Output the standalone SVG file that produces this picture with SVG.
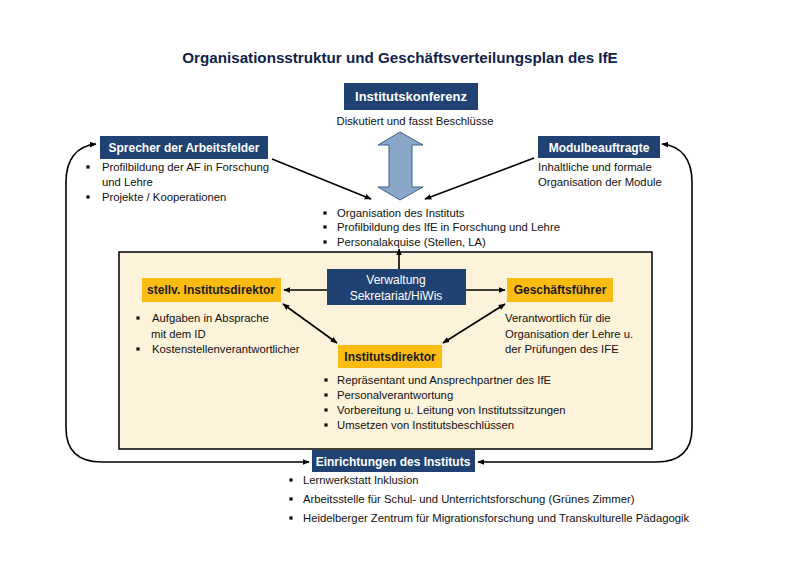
<svg xmlns="http://www.w3.org/2000/svg" width="800" height="566" viewBox="0 0 800 566">
<defs>
<marker id="ah" viewBox="0 0 10 10" refX="9" refY="5" markerWidth="7" markerHeight="7" markerUnits="userSpaceOnUse" orient="auto-start-reverse">
<path d="M0,1 L10,5 L0,9 Z" fill="#000"/>
</marker>
<rect id="b" x="-1.6" y="-1.6" width="3.2" height="3.2" fill="#111"/>
<style>
text{font-family:"Liberation Sans",Arial,sans-serif;}
.t{font-size:11.3px;fill:#111;}
.wb{font-size:12px;font-weight:bold;fill:#fff;}
.w{font-size:12px;fill:#fff;}
.gb{font-size:12px;font-weight:bold;fill:#1a1a1a;}
.blue{fill:#1f4272;}
.gold{fill:#fbbc12;}
.con{stroke:#000;stroke-width:1.6;fill:none;}
</style>
</defs>
<rect width="800" height="566" fill="#fff"/>
<text x="400" y="63" text-anchor="middle" font-size="15.2" font-weight="bold" fill="#10224a">Organisationsstruktur und Geschäftsverteilungsplan des IfE</text>

<g id="beige">
<rect x="119" y="252" width="533" height="197" fill="#fdf2da" stroke="#000" stroke-width="1.5"/>
</g>

<g id="institutskonferenz">
<rect class="blue" x="344" y="83" width="134" height="27"/>
<text x="411" y="101" text-anchor="middle" font-size="13" font-weight="bold" fill="#fff">Institutskonferenz</text>
<text class="t" x="415" y="125" text-anchor="middle">Diskutiert und fasst Beschlüsse</text>
</g>

<g id="sprecher">
<rect class="blue" x="100" y="136" width="168" height="23"/>
<text class="wb" x="184" y="152" text-anchor="middle">Sprecher der Arbeitsfelder</text>
<use href="#b" x="88" y="167"/><text class="t" x="102" y="171">Profilbildung der AF in Forschung</text>
<text class="t" x="102" y="186">und Lehre</text>
<use href="#b" x="88" y="197"/><text class="t" x="102" y="201">Projekte / Kooperationen</text>
</g>

<g id="modul">
<rect class="blue" x="538" y="136" width="122" height="22"/>
<text class="wb" x="599" y="152" text-anchor="middle">Modulbeauftragte</text>
<text class="t" x="538" y="171">Inhaltliche und formale</text>
<text class="t" x="538" y="186">Organisation der Module</text>
</g>

<g id="mitte">
<use href="#b" x="325" y="213"/><text class="t" x="337" y="217">Organisation des Instituts</text>
<use href="#b" x="325" y="227"/><text class="t" x="337" y="231">Profilbildung des IfE in Forschung und Lehre</text>
<use href="#b" x="325" y="242"/><text class="t" x="337" y="246">Personalakquise (Stellen, LA)</text>
</g>

<g id="verwaltung">
<rect class="blue" x="327" y="269" width="139" height="36"/>
<text class="w" x="396" y="284" text-anchor="middle">Verwaltung</text>
<text class="w" x="396" y="300" text-anchor="middle">Sekretariat/HiWis</text>
</g>

<g id="stellv">
<rect class="gold" x="142" y="278" width="139" height="24"/>
<text class="gb" x="211" y="294" text-anchor="middle">stellv. Institutsdirektor</text>
<use href="#b" x="138" y="318"/><text class="t" x="152" y="322">Aufgaben in Absprache</text>
<text class="t" x="151" y="338">mit dem ID</text>
<use href="#b" x="138" y="349"/><text class="t" x="152" y="353">Kostenstellenverantwortlicher</text>
</g>

<g id="geschaeftsfuehrer">
<rect class="gold" x="507" y="278" width="106" height="24"/>
<text class="gb" x="560" y="294" text-anchor="middle">Geschäftsführer</text>
<text class="t" x="505" y="322">Verantwortlich für die</text>
<text class="t" x="505" y="338">Organisation der Lehre u.</text>
<text class="t" x="505" y="353">der Prüfungen des IFE</text>
</g>

<g id="institutsdirektor">
<rect class="gold" x="338" y="345" width="104" height="23"/>
<text class="gb" x="390" y="361" text-anchor="middle">Institutsdirektor</text>
<use href="#b" x="326" y="380"/><text class="t" x="337" y="384">Repräsentant und Ansprechpartner des IfE</text>
<use href="#b" x="326" y="395"/><text class="t" x="337" y="399">Personalverantwortung</text>
<use href="#b" x="326" y="410"/><text class="t" x="337" y="414">Vorbereitung u. Leitung von Institutssitzungen</text>
<use href="#b" x="326" y="425"/><text class="t" x="337" y="429">Umsetzen von Institutsbeschlüssen</text>
</g>

<g id="einrichtungen">
<rect class="blue" x="312" y="450" width="163" height="22"/>
<text class="wb" x="393" y="466" text-anchor="middle">Einrichtungen des Instituts</text>
<use href="#b" x="291" y="480"/><text class="t" x="303" y="484">Lernwerkstatt Inklusion</text>
<use href="#b" x="291" y="499"/><text class="t" x="303" y="503">Arbeitsstelle für Schul- und Unterrichtsforschung (Grünes Zimmer)</text>
<use href="#b" x="291" y="518"/><text class="t" x="303" y="522">Heidelberger Zentrum für Migrationsforschung und Transkulturelle Pädagogik</text>
</g>

<g id="connectors">
<path d="M400,132 L423,145 L412,145 L412,187 L423,187 L400,200 L378,187 L389,187 L389,145 L378,145 Z" fill="#8aa6c9" stroke="#3d5f8a" stroke-width="1"/>
<path class="con" d="M272,159 L371,199" marker-end="url(#ah)"/>
<path class="con" d="M534,158 L425,199" marker-end="url(#ah)"/>
<path class="con" d="M399,269 L399,249" stroke-width="2.2" marker-end="url(#ah)"/>
<path class="con" d="M327,290 L284,290" marker-end="url(#ah)"/>
<path class="con" d="M466,290 L505,290" marker-end="url(#ah)"/>
<path class="con" d="M283,304 L337,343" marker-start="url(#ah)" marker-end="url(#ah)"/>
<path class="con" d="M505,304 L443,343" marker-start="url(#ah)" marker-end="url(#ah)"/>
<path class="con" d="M96,144 C76,146 66,160 66,182 L66,428 Q66,462 102,462 L309,462" marker-start="url(#ah)" marker-end="url(#ah)"/>
<path class="con" d="M662,144 C682,146 692,160 692,182 L692,428 Q692,462 656,462 L478,462" marker-start="url(#ah)" marker-end="url(#ah)"/>
</g>
</svg>
